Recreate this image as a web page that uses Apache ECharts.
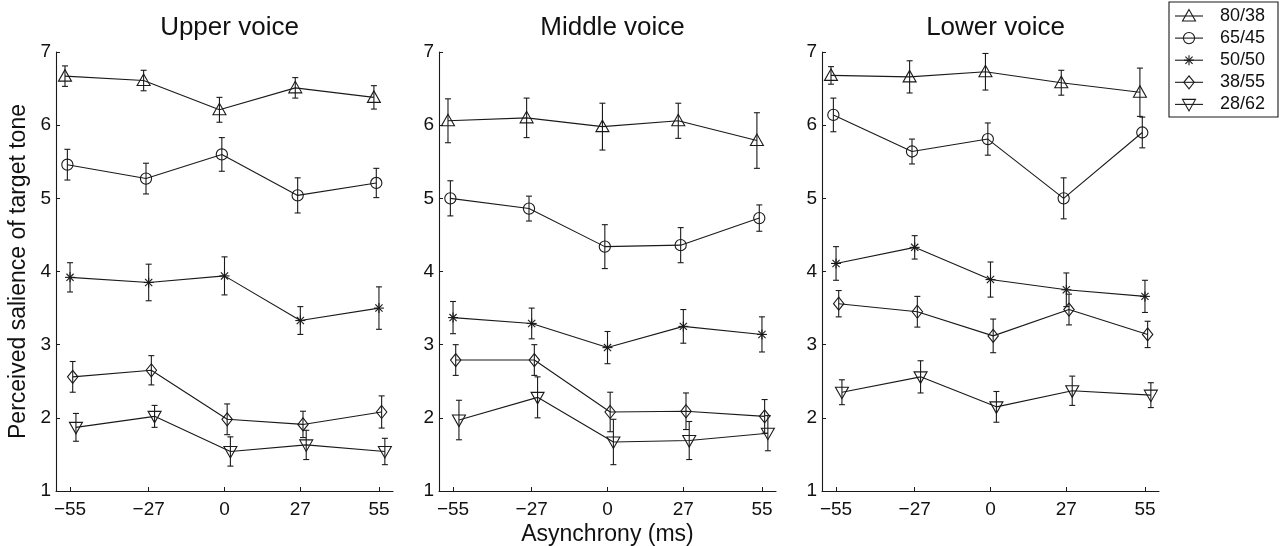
<!DOCTYPE html>
<html><head><meta charset="utf-8">
<script src="https://cdn.jsdelivr.net/npm/echarts@6/dist/echarts.min.js"></script>
<style>html,body{margin:0;padding:0;background:#fff}#c{width:1280px;height:546px}</style>
</head><body><div id="c"></div>
<script>
// ---- data ----
const asynchrony = [-55, -27, 0, 27, 55];
const conditions = ['80/38', '65/45', '50/50', '38/55', '28/62'];
const panelTitles = ['Upper voice', 'Middle voice', 'Lower voice'];
const yTicks = [1, 2, 3, 4, 5, 6, 7];
// small horizontal jitter (ms) applied per condition so markers do not overlap
const jitterMs = [-1.8, -0.95, 0, 0.95, 2.1];

const upperMeans = [
  [6.67, 6.61, 6.21, 6.51, 6.38],
  [5.46, 5.27, 5.60, 5.04, 5.21],
  [3.92, 3.85, 3.94, 3.33, 3.50],
  [2.56, 2.65, 1.98, 1.91, 2.08],
  [1.87, 2.02, 1.54, 1.63, 1.54]
];
const upperErrs = [
  [0.14, 0.14, 0.17, 0.14, 0.16],
  [0.21, 0.21, 0.23, 0.24, 0.20],
  [0.20, 0.25, 0.26, 0.19, 0.29],
  [0.21, 0.20, 0.21, 0.18, 0.22],
  [0.19, 0.15, 0.20, 0.20, 0.18]
];
const middleMeans = [
  [6.06, 6.10, 5.98, 6.06, 5.79],
  [5.00, 4.86, 4.34, 4.36, 4.73],
  [3.37, 3.29, 2.96, 3.25, 3.14],
  [2.79, 2.79, 2.08, 2.09, 2.02],
  [1.97, 2.28, 1.67, 1.69, 1.79]
];
const middleErrs = [
  [0.30, 0.27, 0.32, 0.24, 0.38],
  [0.24, 0.17, 0.30, 0.24, 0.18],
  [0.22, 0.21, 0.22, 0.23, 0.24],
  [0.21, 0.21, 0.27, 0.25, 0.23],
  [0.27, 0.28, 0.31, 0.26, 0.24]
];
const lowerMeans = [
  [6.68, 6.66, 6.73, 6.58, 6.45],
  [6.14, 5.64, 5.81, 5.00, 5.90],
  [4.11, 4.33, 3.89, 3.75, 3.66],
  [3.56, 3.45, 3.12, 3.48, 3.14],
  [2.35, 2.56, 2.15, 2.37, 2.31]
];
const lowerErrs = [
  [0.12, 0.22, 0.25, 0.17, 0.33],
  [0.23, 0.17, 0.22, 0.28, 0.21],
  [0.23, 0.16, 0.24, 0.23, 0.22],
  [0.18, 0.21, 0.23, 0.21, 0.18],
  [0.17, 0.22, 0.21, 0.20, 0.17]
];

const panelMeans = [upperMeans, middleMeans, lowerMeans];
const panelErrs = [upperErrs, middleErrs, lowerErrs];

// ---- styling / layout ----
const INK = '#1a1a1a';
const FONT = '"Liberation Sans", Arial, Helvetica, sans-serif';
const gridLefts = [56, 439, 822];
const GRID_TOP = 52, GRID_W = 337, GRID_H = 439;
const markerKinds = ['tri', 'circle', 'star', 'diamond', 'tridown'];

function markerShapes(kind, cx, cy, style) {
  const els = [];
  if (kind === 'tri') {
    els.push({type: 'polygon', shape: {points: [[cx, cy - 6.5], [cx - 6.5, cy + 5], [cx + 6.5, cy + 5]]}, style});
  } else if (kind === 'tridown') {
    els.push({type: 'polygon', shape: {points: [[cx - 6.5, cy - 5], [cx + 6.5, cy - 5], [cx, cy + 6.5]]}, style});
  } else if (kind === 'circle') {
    els.push({type: 'circle', shape: {cx, cy, r: 5.6}, style});
  } else if (kind === 'diamond') {
    els.push({type: 'polygon', shape: {points: [[cx, cy - 6.5], [cx + 5.2, cy], [cx, cy + 6.5], [cx - 5.2, cy]]}, style});
  } else if (kind === 'star') {
    const r = 5, d = 3.6;
    els.push({type: 'line', shape: {x1: cx, y1: cy - r, x2: cx, y2: cy + r}, style});
    els.push({type: 'line', shape: {x1: cx - r, y1: cy, x2: cx + r, y2: cy}, style});
    els.push({type: 'line', shape: {x1: cx - d, y1: cy - d, x2: cx + d, y2: cy + d}, style});
    els.push({type: 'line', shape: {x1: cx - d, y1: cy + d, x2: cx + d, y2: cy - d}, style});
  }
  return els;
}

const markStyle = {stroke: INK, lineWidth: 1.1, fill: null};

function makeRenderItem(kind) {
  return function (params, api) {
    const x = api.value(0), y = api.value(1), e = api.value(2);
    const c = api.coord([x, y]);
    const t = api.coord([x, y + e]);
    const b = api.coord([x, y - e]);
    const cap = 3;
    const children = [
      {type: 'line', shape: {x1: c[0], y1: t[1], x2: c[0], y2: b[1]}, style: markStyle},
      {type: 'line', shape: {x1: c[0] - cap, y1: t[1], x2: c[0] + cap, y2: t[1]}, style: markStyle},
      {type: 'line', shape: {x1: c[0] - cap, y1: b[1], x2: c[0] + cap, y2: b[1]}, style: markStyle}
    ].concat(markerShapes(kind, c[0], c[1], markStyle));
    return {type: 'group', children};
  };
}

const fmtTick = v => (v < 0 ? '\u2212' + Math.abs(v) : String(v));

const grids = [], xAxes = [], yAxes = [], titles = [], series = [];
for (let p = 0; p < 3; p++) {
  grids.push({left: gridLefts[p], top: GRID_TOP, width: GRID_W, height: GRID_H, containLabel: false, outerBoundsMode: 'none'});
  titles.push({
    text: panelTitles[p], left: gridLefts[p] + GRID_W / 2, top: 10, textAlign: 'center',
    textStyle: {fontFamily: FONT, fontSize: 26, fontWeight: 'normal', color: '#111'}
  });
  xAxes.push({
    type: 'value', gridIndex: p, min: -60, max: 60,
    axisLine: {show: true, onZero: false, lineStyle: {color: INK, width: 1.1}},
    axisTick: {show: true, inside: true, length: 4, customValues: asynchrony, lineStyle: {color: INK}},
    axisLabel: {customValues: asynchrony, formatter: fmtTick, fontFamily: FONT, fontSize: 19, color: '#111', margin: 9},
    splitLine: {show: false},
    name: p === 1 ? 'Asynchrony (ms)' : '', nameLocation: 'middle', nameGap: 32, nameMoveOverlap: false,
    nameTextStyle: {fontFamily: FONT, fontSize: 23, color: '#111'}
  });
  yAxes.push({
    type: 'value', gridIndex: p, min: yTicks[0], max: yTicks[yTicks.length - 1], interval: 1,
    axisLine: {show: true, onZero: false, lineStyle: {color: INK, width: 1.1}},
    axisTick: {show: true, inside: true, length: 4, lineStyle: {color: INK}},
    axisLabel: {fontFamily: FONT, fontSize: 19, color: '#111', margin: 5},
    splitLine: {show: false},
    name: p === 0 ? 'Perceived salience of target tone' : '', nameLocation: 'middle', nameGap: 26, nameRotate: 90,
    nameMoveOverlap: false,
    nameTextStyle: {fontFamily: FONT, fontSize: 23, color: '#111'}
  });
  for (let s = 0; s < conditions.length; s++) {
    const pts = asynchrony.map((a, i) => [a + jitterMs[s], panelMeans[p][s][i], panelErrs[p][s][i]]);
    series.push({
      type: 'line', name: conditions[s], xAxisIndex: p, yAxisIndex: p,
      data: pts.map(d => [d[0], d[1]]), symbol: 'none',
      lineStyle: {color: INK, width: 1.1}, animation: false, z: 2, silent: true
    });
    series.push({
      type: 'custom', name: conditions[s], xAxisIndex: p, yAxisIndex: p,
      data: pts, renderItem: makeRenderItem(markerKinds[s]),
      encode: {x: 0, y: 1}, animation: false, z: 3, silent: true, clip: false
    });
  }
}

// legend box drawn as graphic
const LEG_X = 1169, LEG_Y = 2, LEG_W = 109, LEG_H = 115, LEG_ROW0 = 16, LEG_DY = 22.1;
const legendEls = [{type: 'rect', shape: {x: LEG_X, y: LEG_Y, width: LEG_W, height: LEG_H}, style: {stroke: INK, lineWidth: 1.1, fill: '#fff'}}];
conditions.forEach((name, s) => {
  const y = LEG_ROW0 + s * LEG_DY;
  legendEls.push({type: 'line', shape: {x1: 1175, y1: y, x2: 1203, y2: y}, style: markStyle});
  markerShapes(markerKinds[s], 1189, y, markStyle).forEach(e => legendEls.push(e));
  legendEls.push({type: 'text', style: {text: name, x: 1220, y: y, textVerticalAlign: 'middle', verticalAlign: 'middle', font: '18px ' + FONT, fill: '#111'}});
});

const chart = echarts.init(document.getElementById('c'), null, {renderer: 'canvas'});
chart.setOption({
  backgroundColor: '#fff',
  animation: false,
  title: titles,
  grid: grids,
  xAxis: xAxes,
  yAxis: yAxes,
  series: series,
  graphic: legendEls
});
</script></body></html>
